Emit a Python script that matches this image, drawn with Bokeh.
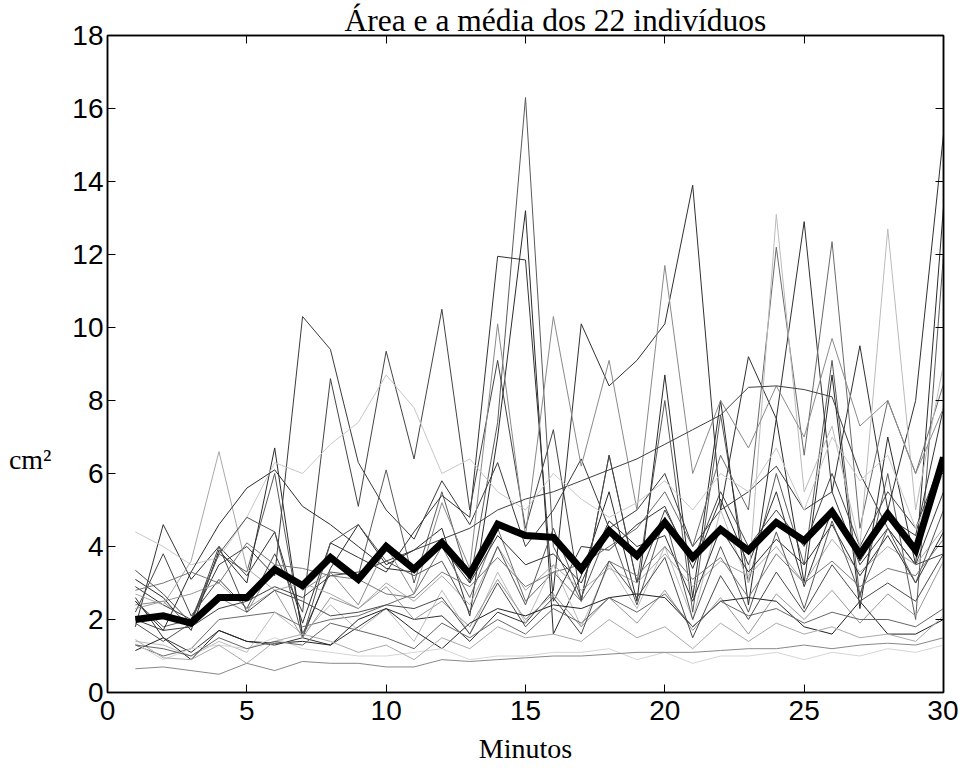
from bokeh.plotting import figure
from bokeh.models import LinearAxis, Range1d, FixedTicker, Title
from bokeh.embed import file_html
from bokeh.resources import INLINE

minutes = list(range(1, 31))

ind01 = [2.5, 1.8, 2.0, 3.8, 3.3, 6.0, 1.6, 3.3, 3.2, 6.1, 3.0, 5.5, 3.0, 7.4, 16.3, 4.0, 2.5, 6.5, 3.0, 8.0, 2.2, 7.6, 3.0, 6.0, 3.5, 9.1, 2.6, 6.0, 2.0, 12.0]
ind02 = [3.1, 2.6, 1.7, 3.9, 3.0, 6.7, 1.5, 3.4, 4.6, 3.5, 3.9, 4.5, 2.1, 7.0, 13.2, 1.6, 3.2, 5.5, 2.5, 8.7, 2.6, 8.0, 2.4, 7.5, 3.0, 8.7, 2.3, 7.0, 3.5, 13.3]
ind03 = [1.8, 4.6, 3.1, 4.0, 3.2, 4.4, 1.9, 4.1, 3.7, 3.3, 4.4, 5.4, 4.8, 11.95, 11.85, 2.5, 4.0, 3.9, 4.6, 5.1, 3.4, 5.3, 3.5, 5.5, 2.9, 5.0, 3.6, 4.8, 4.3, 7.8]
ind04 = [2.9, 2.4, 2.0, 3.5, 4.0, 3.2, 10.3, 9.4, 6.3, 5.0, 4.2, 5.8, 4.6, 6.3, 4.0, 5.0, 6.4, 4.5, 5.0, 6.0, 4.0, 5.0, 5.5, 6.2, 5.0, 5.5, 3.5, 4.5, 3.5, 5.5]
ind05 = [2.2, 3.8, 2.1, 3.1, 2.3, 3.8, 2.2, 8.6, 5.1, 9.35, 6.4, 10.5, 5.0, 9.1, 4.5, 7.2, 2.5, 6.5, 3.0, 5.0, 3.6, 5.5, 4.0, 5.0, 4.0, 6.0, 4.0, 5.5, 4.5, 6.5]
ind06 = [2.6, 1.5, 1.1, 1.7, 1.4, 1.3, 1.5, 1.3, 1.8, 2.3, 2.0, 2.1, 1.4, 2.2, 1.9, 2.8, 10.1, 8.4, 9.1, 10.1, 13.9, 5.0, 9.2, 7.5, 12.9, 5.5, 9.5, 5.0, 8.0, 15.3]
ind07 = [1.3, 1.0, 1.2, 2.0, 2.1, 2.2, 1.8, 2.0, 2.1, 2.4, 2.7, 4.0, 2.6, 4.5, 2.5, 3.3, 3.5, 4.0, 4.5, 5.5, 4.0, 6.5, 5.0, 12.2, 6.5, 12.35, 4.5, 8.0, 6.0, 8.45]
ind08 = [1.4, 1.3, 1.0, 1.4, 1.1, 2.2, 1.6, 2.4, 1.7, 2.3, 1.4, 2.8, 1.6, 3.3, 1.9, 3.5, 1.8, 3.5, 2.3, 4.0, 2.0, 5.0, 3.0, 13.1, 5.5, 7.3, 4.0, 12.7, 5.0, 9.0]
ind09 = [2.4, 2.5, 1.8, 2.6, 2.2, 3.5, 2.8, 3.3, 2.4, 4.0, 2.7, 5.2, 3.4, 10.1, 4.3, 10.3, 6.2, 9.1, 5.0, 11.7, 6.0, 8.0, 6.7, 8.4, 7.0, 9.7, 7.3, 8.0, 6.0, 7.8]
ind10 = [2.0, 1.7, 1.8, 2.3, 2.5, 2.9, 2.6, 3.2, 3.3, 3.6, 3.9, 4.2, 4.5, 5.0, 5.3, 5.5, 5.8, 6.1, 6.4, 6.8, 7.2, 7.6, 8.36, 8.4, 8.3, 8.1, 6.0, 4.5, 3.5, 3.8]
ind11 = [4.4, 4.0, 3.5, 3.7, 4.8, 6.3, 6.0, 6.8, 7.4, 8.7, 7.8, 6.0, 6.4, 5.5, 5.0, 6.0, 5.3, 4.8, 5.2, 5.8, 5.0, 6.0, 5.5, 6.7, 5.0, 7.0, 5.8, 6.5, 4.5, 6.0]
ind12 = [2.7, 2.4, 3.6, 6.6, 3.4, 2.8, 3.0, 2.7, 2.3, 3.0, 2.5, 3.2, 2.4, 4.0, 2.8, 3.5, 2.8, 3.4, 3.0, 3.8, 2.9, 3.6, 3.2, 4.0, 3.0, 4.2, 3.3, 4.0, 3.5, 4.5]
ind13 = [2.5, 1.7, 3.3, 4.6, 5.6, 6.1, 5.1, 4.6, 4.0, 3.4, 3.3, 4.0, 3.0, 4.3, 3.5, 3.8, 3.0, 4.7, 4.0, 4.3, 2.5, 4.5, 3.3, 4.2, 3.5, 4.6, 3.2, 4.3, 3.0, 4.4]
ind14 = [1.9, 1.4, 1.9, 3.8, 4.8, 4.4, 1.5, 4.1, 4.6, 3.6, 3.2, 3.6, 2.2, 4.0, 2.4, 4.5, 2.6, 4.5, 2.4, 4.8, 2.0, 4.0, 2.2, 4.4, 2.3, 4.7, 2.7, 4.5, 3.0, 5.0]
ind15 = [2.8, 3.0, 3.3, 3.0, 4.1, 3.5, 3.4, 3.2, 3.1, 2.7, 2.6, 3.3, 2.9, 3.7, 2.9, 3.3, 2.5, 3.6, 3.2, 4.0, 3.1, 3.7, 2.6, 3.8, 3.0, 3.6, 2.9, 3.4, 3.2, 4.2]
ind16 = [2.3, 2.5, 2.7, 3.0, 2.3, 2.8, 1.5, 2.6, 2.3, 2.9, 2.0, 2.5, 1.8, 3.1, 2.0, 2.7, 1.8, 2.6, 1.9, 2.8, 1.7, 2.6, 1.6, 2.7, 2.0, 2.8, 1.9, 2.7, 2.1, 3.6]
ind17 = [1.15, 1.5, 0.9, 1.7, 1.4, 1.35, 1.4, 1.3, 2.0, 2.3, 1.7, 1.2, 1.9, 2.3, 2.1, 2.4, 2.3, 2.6, 2.7, 2.6, 1.8, 2.5, 2.6, 2.5, 1.8, 1.6, 2.5, 1.6, 1.6, 2.0]
ind18 = [1.35, 0.9, 1.2, 1.3, 1.2, 1.5, 1.2, 1.1, 1.0, 1.0, 1.1, 1.2, 0.9, 1.0, 1.0, 1.1, 1.1, 1.2, 0.9, 1.1, 0.8, 1.0, 1.0, 1.1, 0.9, 1.1, 1.0, 1.2, 1.1, 1.3]
ind19 = [0.65, 0.7, 0.6, 0.5, 0.8, 0.6, 0.85, 0.8, 0.8, 0.7, 0.7, 0.9, 0.85, 0.9, 0.95, 1.0, 1.0, 1.05, 1.1, 1.1, 1.1, 1.15, 1.2, 1.2, 1.3, 1.2, 1.3, 1.35, 1.3, 1.5]
ind20 = [1.45, 0.95, 0.9, 1.3, 0.8, 1.4, 1.6, 1.4, 1.1, 1.3, 0.9, 1.5, 1.2, 1.8, 1.5, 1.6, 1.4, 2.0, 1.5, 1.8, 1.2, 1.9, 1.4, 1.9, 1.6, 1.8, 1.5, 1.6, 1.4, 2.1]
ind21 = [1.3, 1.2, 1.0, 1.5, 1.2, 1.4, 1.3, 1.9, 1.7, 1.5, 1.2, 1.9, 1.5, 2.0, 1.6, 2.3, 1.9, 2.6, 2.2, 2.7, 1.8, 2.5, 2.1, 2.3, 1.9, 2.2, 2.0, 2.0, 1.8, 2.3]
ind22 = [3.35, 2.7, 1.9, 4.0, 2.2, 2.8, 2.5, 2.1, 2.2, 2.4, 2.3, 2.6, 1.6, 3.0, 1.8, 2.6, 1.6, 3.6, 2.6, 3.7, 1.5, 3.2, 2.0, 3.3, 2.2, 3.5, 2.5, 3.0, 2.5, 3.8]

mean_area = [2.0, 2.1, 1.9, 2.6, 2.6, 3.37, 2.93, 3.7, 3.1, 4.0, 3.38, 4.1, 3.24, 4.61, 4.3, 4.25, 3.38, 4.43, 3.75, 4.66,
             3.7, 4.47, 3.89, 4.66, 4.16, 4.95, 3.79, 4.89, 3.9, 6.44]

x_ticks = [0, 5, 10, 15, 20, 25, 30]
y_ticks = [0, 2, 4, 6, 8, 10, 12, 14, 16, 18]

title_text = "Área e a média dos 22 indivíduos"
x_label = "Minutos"
y_label = "cm²"

series = [ind01, ind02, ind03, ind04, ind05, ind06, ind07, ind08, ind09, ind10, ind11,
          ind12, ind13, ind14, ind15, ind16, ind17, ind18, ind19, ind20, ind21, ind22]
grays = ["#5a5a5a", "#2a2a2a", "#333333", "#3a3a3a", "#444444", "#303030", "#6a6a6a", "#bbbbbb",
         "#8a8a8a", "#404040", "#c8c8c8", "#a8a8a8", "#2e2e2e", "#555555", "#777777", "#999999",
         "#222222", "#d5d5d5", "#888888", "#aaaaaa", "#666666", "#4a4a4a"]

p = figure(width=958, height=768, output_backend="svg", toolbar_location=None,
           x_range=Range1d(0, 30), y_range=Range1d(0, 18),
           min_border_left=107, min_border_right=15, min_border_top=35, min_border_bottom=76,
           background_fill_color="white", border_fill_color="white",
           outline_line_color="black", outline_line_width=1.5)
p.title = Title(text=title_text, align="left", offset=237, standoff=-4,
                text_font="Liberation Serif", text_font_size="31.5px",
                text_font_style="normal", text_color="black")
p.grid.visible = False

for s, c in zip(series, grays):
    p.line(minutes, s, line_color=c, line_width=1)
p.line(minutes, mean_area, line_color="black", line_width=7, line_join="miter")


def style_axis(ax, ticks, show_labels, standoff):
    ax.ticker = FixedTicker(ticks=ticks)
    ax.minor_tick_line_color = None
    ax.major_tick_in = 8
    ax.major_tick_out = 0
    ax.major_tick_line_color = "black"
    ax.major_tick_line_width = 1
    ax.axis_line_color = "black"
    ax.axis_line_width = 1.5
    ax.major_label_standoff = standoff
    if show_labels:
        ax.major_label_text_font = "Liberation Sans"
        ax.major_label_text_font_size = "28px"
        ax.major_label_text_color = "black"
    else:
        ax.major_label_text_font_size = "1px"
        ax.major_label_text_color = None


xa = p.xaxis[0]
style_axis(xa, x_ticks, True, 8)
xa.axis_label = x_label
xa.axis_label_text_font = "Liberation Serif"
xa.axis_label_text_font_size = "28px"
xa.axis_label_text_font_style = "normal"
xa.axis_label_text_color = "black"
xa.axis_label_standoff = 10

ya = p.yaxis[0]
style_axis(ya, y_ticks, True, 4)

top = LinearAxis()
style_axis(top, x_ticks, False, 0)
p.add_layout(top, "above")
right = LinearAxis()
style_axis(right, y_ticks, False, 0)
p.add_layout(right, "right")

# outer left axis used only to carry the horizontal "cm²" label, pushed down beside 6-7
ylab = LinearAxis(ticker=FixedTicker(ticks=[]))
ylab.axis_line_color = None
ylab.major_tick_line_color = None
ylab.minor_tick_line_color = None
ylab.major_label_text_font_size = "1px"
ylab.major_label_text_color = None
ylab.major_tick_in = 0
ylab.major_tick_out = 0
ylab.major_label_standoff = 0
ylab.axis_label = "\u00a0\n\u00a0\n\u00a0\n\u00a0\n\u00a0\n" + y_label
ylab.axis_label_orientation = "horizontal"
ylab.axis_label_text_font = "Liberation Serif"
ylab.axis_label_text_font_size = "28px"
ylab.axis_label_text_line_height = 1.23
ylab.axis_label_text_align = "right"
ylab.axis_label_text_font_style = "normal"
ylab.axis_label_text_color = "black"
ylab.axis_label_standoff = 18
p.add_layout(ylab, "left")

open("out.html", "w").write(file_html(p, INLINE))
